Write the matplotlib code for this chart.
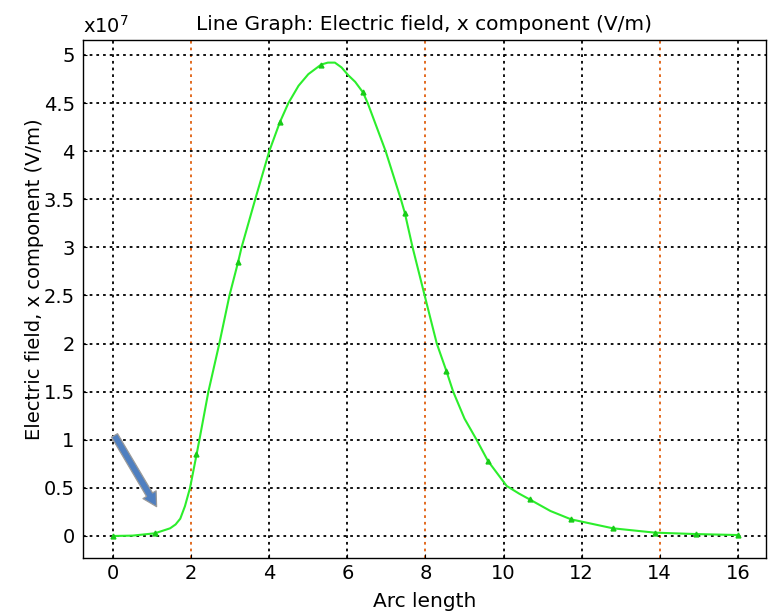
import matplotlib.pyplot as plt
import numpy as np

# Curve (arc length, field in units of 1e7 V/m)
arc = [0, 0.5, 1.07, 1.46, 1.6, 1.72, 1.84, 1.97, 2.14, 2.21, 2.44, 2.72,
       2.98, 3.2, 3.29, 3.64, 4.0, 4.27, 4.49, 4.75, 5.0, 5.33, 5.5, 5.68,
       5.85, 6.02, 6.2, 6.4, 6.52, 6.98, 7.37, 7.47, 7.67, 8.01, 8.29, 8.54,
       8.71, 9.0, 9.31, 9.6, 10.08, 10.4, 10.67, 11.2, 11.73, 12.8, 13.87,
       14.93, 16]
ex = [0, 0.004, 0.028, 0.08, 0.12, 0.18, 0.31, 0.5, 0.852, 1.0, 1.5, 2.0,
      2.5, 2.845, 3.0, 3.5, 4.0, 4.30, 4.5, 4.68, 4.80, 4.90, 4.92, 4.92,
      4.87, 4.79, 4.72, 4.61, 4.5, 4.0, 3.5, 3.36, 3.0, 2.45, 2.0, 1.71,
      1.5, 1.22, 1.0, 0.78, 0.52, 0.44, 0.38, 0.26, 0.173, 0.08, 0.035,
      0.02, 0.01]

# Marker positions along the curve
marker_arc = [0, 1.07, 2.13, 3.2, 4.27, 5.33, 6.4, 7.47, 8.53, 9.6, 10.67,
              11.73, 12.8, 13.87, 14.93, 16]
marker_ex = [0, 0.028, 0.85, 2.845, 4.30, 4.90, 4.61, 3.36, 1.71, 0.78,
             0.38, 0.173, 0.08, 0.035, 0.02, 0.01]

xticks = [0, 2, 4, 6, 8, 10, 12, 14, 16]
yticks = [0, 0.5, 1, 1.5, 2, 2.5, 3, 3.5, 4, 4.5, 5]
ytick_labels = ['0', '0.5', '1', '1.5', '2', '2.5', '3', '3.5', '4', '4.5', '5']
orange_lines = [2, 8, 14]

fig = plt.figure(figsize=(7.69, 6.14), dpi=100)
ax = fig.add_axes([0.108, 0.091, 0.888, 0.844])

green = '#2cee2c'
ax.plot(arc, ex, color=green, lw=1.5, zorder=3)
ax.plot(marker_arc, marker_ex, linestyle='none', marker='^', ms=3.5,
        color='#18cc18', zorder=4)

ax.set_xlim(-0.77, 16.72)
ax.set_ylim(-0.23, 5.156)
ax.set_xticks(xticks)
ax.set_yticks(yticks)
ax.set_yticklabels(ytick_labels)
ax.tick_params(direction='in', length=3, labelsize=14)
ax.tick_params(axis='x', pad=4)
ax.tick_params(axis='y', pad=6)

# dotted grid, with the orange boundary lines
ax.grid(True, color='black', linestyle=(0, (1.5, 2.2)), linewidth=1.3)
for x, gl in zip(xticks, ax.get_xgridlines()):
    if x in orange_lines:
        gl.set_color('#e06010')

for s in ax.spines.values():
    s.set_linewidth(1.0)

ax.set_title('Line Graph: Electric field, x component (V/m)', fontsize=14.5, pad=7)
ax.set_xlabel('Arc length', fontsize=14.5, labelpad=7)
ax.set_ylabel('Electric field, x component (V/m)', fontsize=14)
ax.yaxis.set_label_coords(-0.057, 0.539)
fig.text(0.108, 0.946, r'x10$^7$', fontsize=14, ha='left', va='baseline')

# blue arrow pointing at the foot of the curve
ax.annotate('', xy=(1.15, 0.28), xytext=(0.0, 1.07),
            arrowprops=dict(arrowstyle='simple,head_width=1.1,head_length=1.0,tail_width=0.5',
                            color='#4f7fc0', ec='#9a9a9a', lw=0.9), zorder=5)

fig.savefig('out.png', dpi=100)
